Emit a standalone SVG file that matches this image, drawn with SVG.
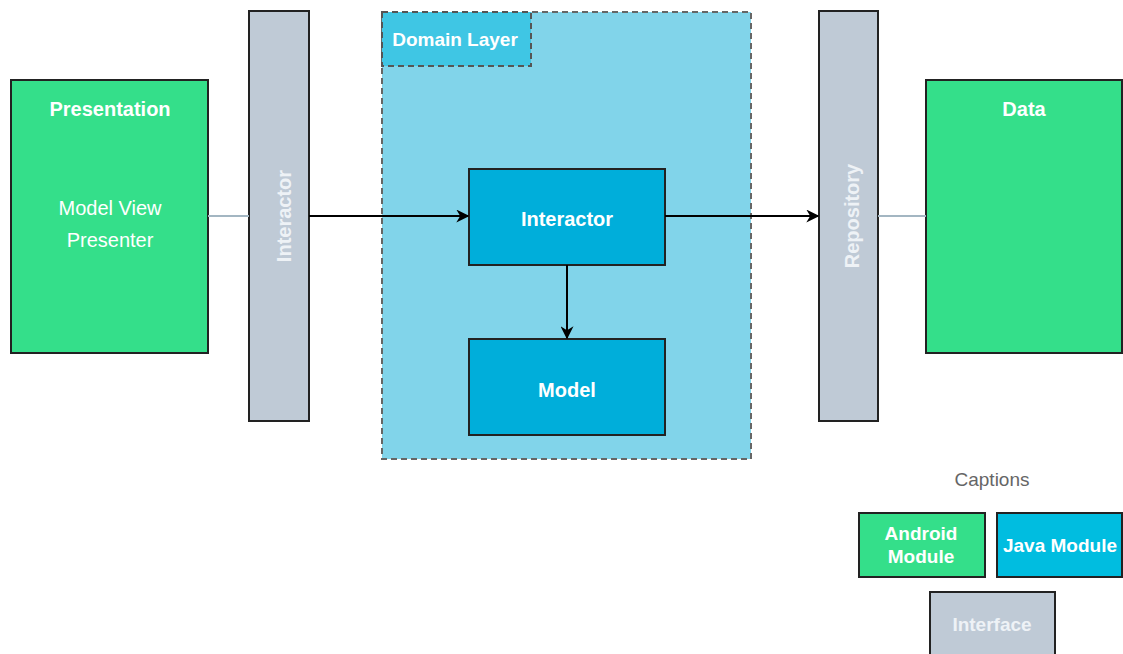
<svg xmlns="http://www.w3.org/2000/svg" width="1123" height="654" viewBox="0 0 1123 654">
<defs>
<marker id="arr" viewBox="0 0 10 10" refX="9" refY="5" markerWidth="13" markerHeight="13" markerUnits="userSpaceOnUse" orient="auto">
<path d="M0,0 L10,5 L0,10 L3,5 Z" fill="#000"/>
</marker>
<style>
.box{stroke:#222;stroke-width:2}
.green{fill:#34DF8A}
.grey{fill:#BFCAD6}
.blue{fill:#00AEDA}
.t{font-family:"Liberation Sans",Arial,Helvetica,sans-serif;fill:#fff;text-anchor:middle;dominant-baseline:central}
.b{font-weight:bold}
.vt{fill:#EEF2F6}
.line{stroke:#000;stroke-width:2;fill:none}
.soft{stroke:#A3B6C2;stroke-width:2;fill:none}
</style>
</defs>
<rect width="1123" height="654" fill="#fff"/>
<g id="domain-layer">
<rect x="382" y="12" width="369" height="447" fill="#81D4EA" stroke="#666" stroke-width="2" stroke-dasharray="6 4"/>
<rect x="382" y="12" width="149" height="54" fill="#3FC6E4" stroke="#555" stroke-width="2" stroke-dasharray="6 4"/>
<text class="t b" x="455" y="39" font-size="19">Domain Layer</text>
</g>
<g id="presentation">
<rect class="box green" x="11" y="80" width="197" height="273"/>
<text class="t b" x="110" y="109" font-size="20">Presentation</text>
<text class="t" x="110" y="208" font-size="20">Model View</text>
<text class="t" x="110" y="240" font-size="20">Presenter</text>
</g>
<g id="interactor-interface">
<rect class="box grey" x="249" y="11" width="60" height="410"/>
<text class="t b vt" x="0" y="0" font-size="20" transform="translate(284,216) rotate(-90)">Interactor</text>
</g>
<g id="interactor">
<rect class="box blue" x="469" y="169" width="196" height="96"/>
<text class="t b" x="567" y="219" font-size="20">Interactor</text>
</g>
<g id="model">
<rect class="box blue" x="469" y="339" width="196" height="96"/>
<text class="t b" x="567" y="390" font-size="20">Model</text>
</g>
<g id="repository">
<rect class="box grey" x="819" y="11" width="59" height="410"/>
<text class="t b vt" x="0" y="0" font-size="20" transform="translate(852,216) rotate(-90)">Repository</text>
</g>
<g id="data">
<rect class="box green" x="926" y="80" width="196" height="273"/>
<text class="t b" x="1024" y="109" font-size="20">Data</text>
</g>
<g id="connectors">
<line class="soft" x1="208" y1="216" x2="249" y2="216"/>
<line class="line" x1="309" y1="216" x2="468" y2="216" marker-end="url(#arr)"/>
<line class="line" x1="665" y1="216" x2="818" y2="216" marker-end="url(#arr)"/>
<line class="soft" x1="878" y1="216" x2="926" y2="216"/>
<line class="line" x1="567" y1="265" x2="567" y2="338" marker-end="url(#arr)"/>
</g>
<g id="captions">
<text x="992" y="479" font-size="19" font-family="'Liberation Sans',Arial,Helvetica,sans-serif" fill="#666" text-anchor="middle" dominant-baseline="central">Captions</text>
</g>
<g id="caption-android">
<rect class="box green" x="859" y="513" width="126" height="64"/>
<text class="t b" x="921" y="533" font-size="19">Android</text>
<text class="t b" x="921" y="556" font-size="19">Module</text>
</g>
<g id="caption-java">
<rect class="box" fill="#00BDE0" x="997" y="513" width="125" height="64"/>
<text class="t b" x="1060" y="545" font-size="19">Java Module</text>
</g>
<g id="caption-interface">
<rect class="box grey" x="930" y="592" width="125" height="70"/>
<text class="t b vt" x="992" y="624" font-size="19">Interface</text>
</g>
</svg>
